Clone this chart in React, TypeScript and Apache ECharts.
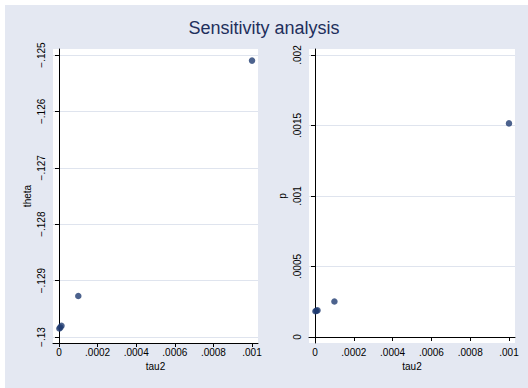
import React, { useEffect, useRef } from "react";
import * as echarts from "echarts";

const tau2 = [0.000002, 0.000007, 0.000013, 0.0001, 0.001];
const theta = [-0.12985, -0.12983, -0.1298, -0.129273, -0.1251];
const pval = [0.000183, 0.000186, 0.000189, 0.000252, 0.001515];

const xTicks = [0, 0.0002, 0.0004, 0.0006, 0.0008, 0.001];
const xTickLabels = ["0", ".0002", ".0004", ".0006", ".0008", ".001"];
const thetaTicks = [-0.13, -0.129, -0.128, -0.127, -0.126, -0.125];
const thetaTickLabels = ["\u2212.13", "\u2212.129", "\u2212.128", "\u2212.127", "\u2212.126", "\u2212.125"];
const pTicks = [0, 0.0005, 0.001, 0.0015, 0.002];
const pTickLabels = ["0", ".0005", ".001", ".0015", ".002"];

const FONT = "Liberation Sans, Arial, sans-serif";
const NAVY = "#1f3b70";
const GRID = "#dfe4ee";
const BG = "#e4e8f2";

function labelFor(ticks: number[], labels: string[]) {
  return (v: number) => {
    for (let i = 0; i < ticks.length; i++) {
      if (Math.abs(ticks[i] - v) < 1e-9) return labels[i];
    }
    return "";
  };
}

function xAxisCfg(gridIndex: number) {
  return {
    type: "value",
    gridIndex,
    min: -0.000031,
    max: 0.001031,
    name: "tau2",
    nameLocation: "middle",
    nameGap: 16,
    nameTextStyle: { fontFamily: FONT, fontSize: 10, color: "#000" },
    axisLine: { show: true, lineStyle: { color: "#000", width: 1 } },
    axisTick: { show: true, length: 4, customValues: xTicks, lineStyle: { color: "#000" } },
    axisLabel: {
      customValues: xTicks,
      margin: 4,
      fontFamily: FONT,
      fontSize: 10,
      color: "#000",
      formatter: labelFor(xTicks, xTickLabels),
    },
    splitLine: { show: false },
  };
}

function yAxisCfg(gridIndex: number, name: string, gap: number, min: number, max: number, ticks: number[], labels: string[]) {
  return {
    type: "value",
    gridIndex,
    min,
    max,
    name,
    nameLocation: "middle",
    nameGap: gap,
    nameRotate: 90,
    nameTextStyle: { fontFamily: FONT, fontSize: 10, color: "#000" },
    axisLine: { show: true, lineStyle: { color: "#000", width: 1 } },
    axisTick: { show: true, length: 4, customValues: ticks, lineStyle: { color: "#000" } },
    axisLabel: {
      customValues: ticks,
      rotate: 90,
      margin: 7,
      fontFamily: FONT,
      fontSize: 10,
      color: "#000",
      formatter: labelFor(ticks, labels),
    },
    splitLine: { show: true, customValues: ticks, lineStyle: { color: GRID, width: 1 } },
  };
}

export default function App() {
  const ref = useRef<HTMLDivElement>(null);
  useEffect(() => {
    if (!ref.current) return;
    const chart = echarts.init(ref.current, undefined, { renderer: "svg" });
    chart.setOption({
      animation: false,
      backgroundColor: "#ffffff",
      graphic: [
        {
          type: "rect",
          z: -10,
          shape: { x: 5, y: 5, width: 523, height: 383 },
          style: { fill: BG },
          silent: true,
        },
      ],
      title: {
        text: "Sensitivity analysis",
        left: "center",
        top: 14,
        textStyle: { fontFamily: FONT, fontSize: 18, fontWeight: "normal", color: "#1e2f5c" },
      },
      grid: [
        { left: 53, top: 49, width: 205, height: 294, show: true, backgroundColor: "#fff", borderWidth: 0 },
        { left: 309, top: 49, width: 206, height: 294, show: true, backgroundColor: "#fff", borderWidth: 0 },
      ],
      xAxis: [xAxisCfg(0), xAxisCfg(1)],
      yAxis: [
        yAxisCfg(0, "theta", 21, -0.130106, -0.124894, thetaTicks, thetaTickLabels),
        yAxisCfg(1, "p", 22, -0.0000425, 0.0020425, pTicks, pTickLabels),
      ],
      series: [
        {
          type: "scatter",
          xAxisIndex: 0,
          yAxisIndex: 0,
          symbolSize: 6.5,
          itemStyle: { color: NAVY },
          data: tau2.map((t, i) => [t, theta[i]]),
          z: 5,
        },
        {
          type: "scatter",
          xAxisIndex: 1,
          yAxisIndex: 1,
          symbolSize: 6.5,
          itemStyle: { color: NAVY },
          data: tau2.map((t, i) => [t, pval[i]]),
          z: 5,
        },
      ],
    });
    return () => chart.dispose();
  }, []);
  return (
    <div
      ref={ref}
      style={{ position: "absolute", left: 0, top: 0, width: 528, height: 388 }}
    />
  );
}
